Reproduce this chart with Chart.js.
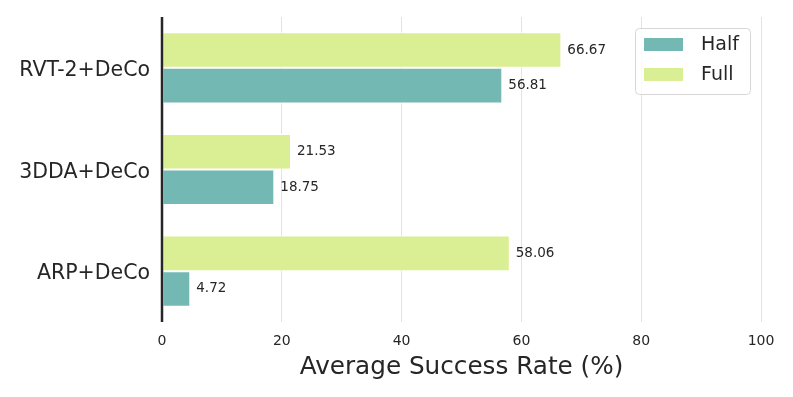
<!DOCTYPE html>
<html>
<head>
<meta charset="utf-8">
<script src="https://cdn.jsdelivr.net/npm/chart.js@4"></script>
<style>
  html, body { margin: 0; padding: 0; background: #fff; }
  #wrap { width: 793px; height: 397px; }
</style>
</head>
<body>
<div id="wrap"><canvas id="chart" width="793" height="397"></canvas></div>
<script>
var categories = ['RVT-2+DeCo', '3DDA+DeCo', 'ARP+DeCo'];
var halfValues = [56.81, 18.75, 4.72];
var fullValues = [66.67, 21.53, 58.06];
var xTicks = [0, 20, 40, 60, 80, 100];

var TEAL = '#73b8b3';
var LIME = '#daee93';
var TEXT = '#262626';
var FONT = "'DejaVu Sans', sans-serif";

// value labels to the right of each bar, plus the left spine drawn over the bars
var valueLabels = {
    id: 'valueLabels',
    afterDatasetsDraw: function(chart) {
        var ctx = chart.ctx;
        var area = chart.chartArea;
        ctx.save();
        ctx.font = '13.5px ' + FONT;
        ctx.fillStyle = TEXT;
        ctx.textBaseline = 'middle';
        ctx.textAlign = 'left';
        chart.data.datasets.forEach(function(ds, i) {
            chart.getDatasetMeta(i).data.forEach(function(bar, j) {
                ctx.fillText(ds.data[j].toFixed(2), bar.x + 6, bar.y);
            });
        });
        ctx.strokeStyle = TEXT;
        ctx.lineWidth = 2.5;
        ctx.beginPath();
        ctx.moveTo(area.left, area.top);
        ctx.lineTo(area.left, area.bottom);
        ctx.stroke();
        ctx.restore();
    }
};

// legend box inside the plot, top right
var boxLegend = {
    id: 'boxLegend',
    afterDraw: function(chart) {
        var ctx = chart.ctx;
        var area = chart.chartArea;
        var items = [chart.data.datasets[1], chart.data.datasets[0]];
        var w = 115, h = 66;
        var x = area.right - 126, y = area.top + 11;
        ctx.save();
        ctx.fillStyle = 'rgba(255,255,255,0.85)';
        ctx.strokeStyle = '#d6d6d6';
        ctx.lineWidth = 1;
        ctx.beginPath();
        ctx.roundRect(x + 0.5, y + 0.5, w, h, 4);
        ctx.fill();
        ctx.stroke();
        ctx.font = '19px ' + FONT;
        ctx.textBaseline = 'middle';
        items.forEach(function(ds, i) {
            var cy = y + 16 + i * 30;
            ctx.fillStyle = ds.backgroundColor;
            ctx.fillRect(x + 9, cy - 6, 39, 13);
            ctx.fillStyle = TEXT;
            ctx.fillText(ds.label, x + 66, cy + 1);
        });
        ctx.restore();
    }
};

new Chart(document.getElementById('chart'), {
    type: 'bar',
    data: {
        labels: categories,
        datasets: [
            { label: 'Full', data: fullValues, backgroundColor: LIME, borderColor: '#ffffff', borderWidth: 1, borderSkipped: false },
            { label: 'Half', data: halfValues, backgroundColor: TEAL, borderColor: '#ffffff', borderWidth: 1, borderSkipped: false }
        ]
    },
    options: {
        indexAxis: 'y',
        responsive: false,
        animation: false,
        layout: { padding: { top: 17, right: 32, left: 0, bottom: 0 } },
        datasets: { bar: { categoryPercentage: 0.7, barPercentage: 1.0 } },
        plugins: {
            legend: { display: false },
            tooltip: { enabled: false }
        },
        scales: {
            x: {
                min: 0,
                max: 100,
                afterBuildTicks: function(scale) {
                    scale.ticks = xTicks.map(function(v) { return { value: v }; });
                },
                afterFit: function(scale) {
                    scale.height = 75;
                    scale.paddingLeft = 0;
                    scale.paddingRight = 0;
                },
                grid: {
                    color: function(c) { return c.tick && c.tick.value === 0 ? 'rgba(0,0,0,0)' : '#e3e3e3'; },
                    lineWidth: 1,
                    drawTicks: false
                },
                border: { display: false },
                ticks: { color: TEXT, font: { family: FONT, size: 14 }, padding: 11 },
                title: {
                    display: true,
                    text: 'Average Success Rate (%)',
                    color: TEXT,
                    font: { family: FONT, size: 24.7 },
                    padding: { top: 4, bottom: 15 }
                }
            },
            y: {
                afterFit: function(scale) {
                    scale.width = 162;
                    scale.paddingTop = 0;
                    scale.paddingBottom = 0;
                },
                grid: { display: false, drawTicks: false },
                border: { display: false },
                ticks: { color: TEXT, font: { family: FONT, size: 20.5 }, padding: 12, labelOffset: 3 }
            }
        }
    },
    plugins: [valueLabels, boxLegend]
});
</script>
</body>
</html>
